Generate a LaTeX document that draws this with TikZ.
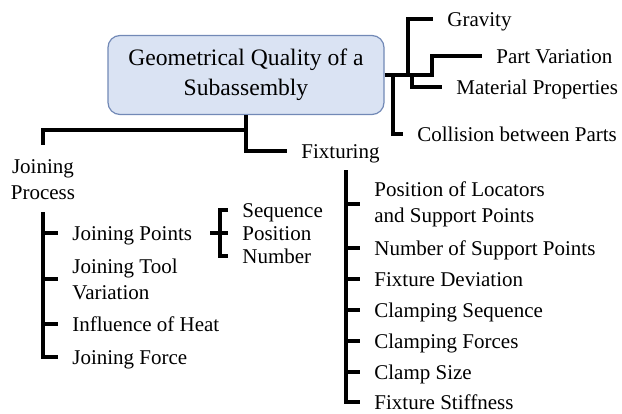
\documentclass[tikz,border=0pt]{standalone}
\usepackage{fontspec}
\setmainfont{Liberation Serif}
\definecolor{boxfill}{RGB}{218,227,243}
\definecolor{boxline}{RGB}{114,137,182}
\tikzstyle{rootb}=[rounded corners=6pt,fill=boxfill,draw=boxline,line width=0.6pt,minimum width=138pt,minimum height=39.5pt,align=center,font=\fontsize{11.8}{15}\selectfont]
\tikzstyle{itemb}=[anchor=west,inner xsep=7pt,inner ysep=0pt,text height=9.5pt,text depth=1.7pt,font=\fontsize{10.5}{13}\selectfont]
\tikzstyle{itemm}=[anchor=west,inner xsep=7pt,inner ysep=0pt,align=left,font=\fontsize{10.5}{13}\selectfont]
\tikzstyle{linkb}=[line width=1.7pt]

\begin{document}
\begin{tikzpicture}[x=0.5pt,y=-0.5pt]
    \useasboundingbox (0,0) rectangle (622,413);
    \node[rootb] (root) at (246,75) {Geometrical Quality of a\\Subassembly};

    % right branch
    \node[itemb] (grav) at (433,19)  {Gravity};
    \node[itemb] (partv) at (482,56) {Part Variation};
    \node[itemb] (matp) at (442,87)  {Material Properties};
    \node[itemb] (coll) at (403,134) {Collision between Parts};
    \coordinate (r1) at (393,75);
    \coordinate (r2) at (408,75);
    \coordinate (r3) at (412,75);
    \draw[linkb] (root.east) -- (432,75) |- (partv.west);
    \draw[linkb] (r1) |- (coll.west);
    \draw[linkb] (r2) |- (grav.west);
    \draw[linkb] (r3) |- (matp.west);

    % left branch
    \node[itemb] (fixt) at (287,151) {Fixturing};
    \node[itemm,anchor=north,align=center,inner ysep=7pt,inner xsep=0pt] (jproc) at (43,145) {Joining\\Process};
    \coordinate (lj) at (246,130);
    \draw[linkb] (root.south) |- (fixt.west);
    \draw[linkb] (lj) -| (jproc.north);

    % joining process
    \node[itemb] (jpts) at (58,233)  {Joining Points};
    \node[itemm] (jtool) at (58,279) {Joining Tool\\Variation};
    \node[itemb] (heat) at (58,324)  {Influence of Heat};
    \node[itemb] (jforce) at (58,357) {Joining Force};
    \coordinate (jtop) at (43,212);
    \draw[linkb] (jtop) |- (jforce.west);
    \foreach \n in {jpts,jtool,heat}
    \draw[linkb] (jtop |- \n.west) -- (\n.west);

    \node[itemb] (seq) at (228,210) {Sequence};
    \node[itemb] (posn) at (228,233) {Position};
    \node[itemb] (numb) at (228,256) {Number};
    \coordinate (sb) at (220,233);
    \coordinate (sbl) at (210,233);
    \draw[linkb] (seq.west) -| (sb) |- (numb.west);
    \draw[linkb] (sbl) -- (posn.west);

    % fixturing
    \node[itemm] (locs) at (360,204)   {Position of Locators\\and Support Points};
    \node[itemb] (nsup) at (360,248)   {Number of Support Points};
    \node[itemb] (fdev) at (360,279)   {Fixture Deviation};
    \node[itemb] (cseq) at (360,310)   {Clamping Sequence};
    \node[itemb] (cforce) at (360,341) {Clamping Forces};
    \node[itemb] (csize) at (360,372)  {Clamp Size};
    \node[itemb] (fstiff) at (360,402) {Fixture Stiffness};
    \coordinate (ftop) at (346,170);
    \draw[linkb] (ftop) |- (fstiff.west);
    \foreach \n in {locs,nsup,fdev,cseq,cforce,csize}
    \draw[linkb] (ftop |- \n.west) -- (\n.west);
\end{tikzpicture}
\end{document}
